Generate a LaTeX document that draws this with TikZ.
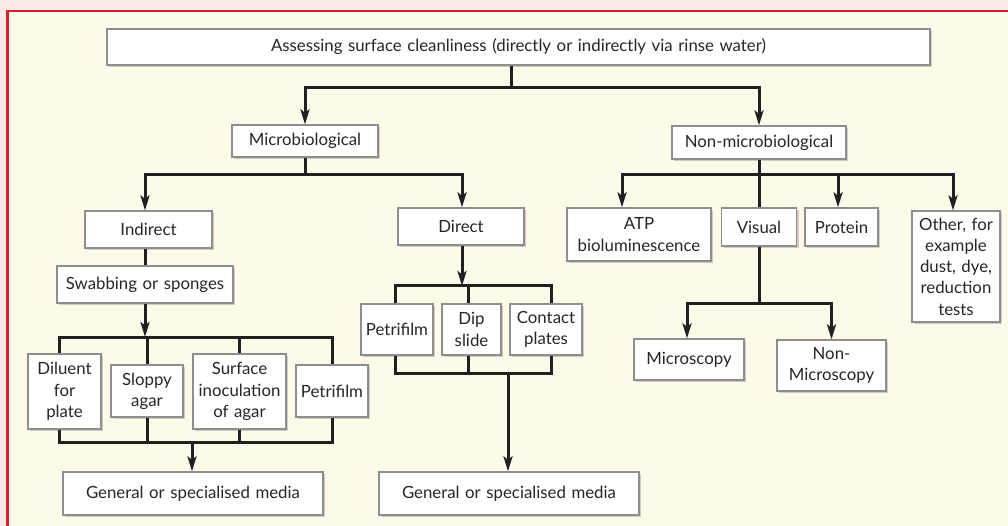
\documentclass[tikz,border=0pt]{standalone}
\usepackage{fontspec}
\setmainfont{Lato}[WordSpace=1.3]
\usetikzlibrary{arrows.meta,shadows}
\definecolor{pinkbg}{HTML}{FBEAE6}
\definecolor{creambg}{HTML}{FEFAE9}
\definecolor{framered}{HTML}{D7202E}
\definecolor{boxline}{HTML}{8E8E8E}
\definecolor{inkline}{HTML}{231F20}
\tikzset{
  box/.style={draw=boxline, line width=1.3pt, fill=white, align=center, inner sep=2pt,
    text=black!85, font=\fontsize{16.8}{21.3}\selectfont,
    drop shadow={shadow xshift=2pt, shadow yshift=-2pt, opacity=0.18, fill=black}},
  link/.style={line width=3pt, inkline},
  arr/.style={link, -{Stealth[length=15pt, width=9pt, inset=3.5pt]}}
}
\begin{document}
\begin{tikzpicture}[x=1pt, y=-1pt]
    \useasboundingbox (0,0) rectangle (1008,526);
    \fill[pinkbg] (0,0) rectangle (1008,526);
    \fill[creambg] (7.5,11) rectangle (1008,526);
    \draw[framered, line width=2.5pt] (7.5,526) -- (7.5,11) -- (1008,11);

    \node[box, minimum width=823pt, minimum height=36pt] (top) at (518.5,47) {Assessing surface cleanliness (directly or indirectly via rinse water)};
    \node[box, minimum width=146pt, minimum height=32pt] (micro) at (305,141) {Microbiological};
    \node[box, minimum width=174pt, minimum height=33pt] (nonmicro) at (759,142.5) {Non-microbiological};

    \node[box, minimum width=127pt, minimum height=37pt] (indirect) at (148.5,229.5) {Indirect};
    \node[box, minimum width=126pt, minimum height=37pt] (direct) at (461,226.5) {Direct};
    \node[box, minimum width=176pt, minimum height=37pt] (swab) at (145,284.5) {Swabbing or sponges};

    \node[box, minimum width=73pt, minimum height=75pt] (diluent) at (64.5,391.5) {Diluent\\for\\plate};
    \node[box, minimum width=72pt, minimum height=52pt] (sloppy) at (147,391) {Sloppy\\agar};
    \node[box, minimum width=93pt, minimum height=75pt] (surface) at (239.5,391.5) {Surface\\inoculation\\of agar};
    \node[box, minimum width=72pt, minimum height=52pt] (petri1) at (332,391) {Petrifilm};
    \node[box, minimum width=260pt, minimum height=43pt] (media1) at (193,493.5) {General or specialised media};

    \node[box, minimum width=72pt, minimum height=51pt] (petri2) at (397,329.5) {Petrifilm};
    \node[box, minimum width=59pt, minimum height=51pt] (dip) at (471.5,329.5) {Dip\\slide};
    \node[box, minimum width=72pt, minimum height=51pt] (contact) at (546,329.5) {Contact\\plates};
    \node[box, minimum width=260pt, minimum height=43pt] (media2) at (509,493.5) {General or specialised media};

    \node[box, minimum width=144pt, minimum height=53pt] (atp) at (639,234.5) {ATP\\bioluminescence};
    \node[box, minimum width=75pt, minimum height=38pt] (visual) at (759,227) {Visual};
    \node[box, minimum width=73pt, minimum height=38pt] (protein) at (841.5,227) {Protein};
    \node[box, minimum width=88pt, minimum height=111pt] (other) at (956,266.5) {Other, for\\example\\dust, dye,\\reduction\\tests};
    \node[box, minimum width=110pt, minimum height=41pt] (microscopy) at (689,359.5) {Microscopy};
    \node[box, minimum width=109pt, minimum height=51pt] (nonmicroscopy) at (831.5,365.5) {Non-\\Microscopy};

    \coordinate (s0) at (511,88);
    \coordinate (s5) at (305,175);
    \coordinate (s3) at (759,175);
    \coordinate (s1) at (145,337);
    \coordinate (b1) at (192,442);
    \coordinate (s2) at (462,286);
    \coordinate (b2) at (508,373);
    \coordinate (s4) at (759,303);

    \draw[link] (top.south -| s0) -- (s0);
    \draw[arr] (s0) -| (micro.north);
    \draw[arr] (s0) -| (nonmicro.north);

    \draw[link] (micro) -- (s5);
    \draw[arr] (s5) -| ([xshift=-3.5pt]indirect.north);
    \draw[arr] (s5) -| ([xshift=1pt]direct.north);

    \draw[link] ([xshift=-3.5pt]indirect.south) -- (swab.north);
    \draw[arr] (swab.south) -- (s1);
    \draw[link] ([xshift=-5.5pt]diluent.north) |- (petri1.north |- s1) -- (petri1.north);
    \draw[link] (sloppy.north) -- (sloppy.north |- s1);
    \draw[link] (surface.north) -- (surface.north |- s1);
    \draw[link] ([xshift=-5.5pt]diluent.south) |- (petri1.south |- b1) -- (petri1.south);
    \draw[link] (sloppy.south) -- (sloppy.south |- b1);
    \draw[link] (surface.south) -- (surface.south |- b1);
    \draw[arr] (b1) -- (b1 |- media1.north);

    \draw[arr] ([xshift=1pt]direct.south) -- (s2);
    \draw[link] ([xshift=-2pt]petri2.north) |- ([xshift=5pt]contact.north |- s2) -- ([xshift=5pt]contact.north);
    \draw[link] ([xshift=-3.5pt]dip.north) -- ([xshift=-3.5pt]dip.north |- s2);
    \draw[link] ([xshift=-2pt]petri2.south) |- ([xshift=5pt]contact.south |- b2) -- ([xshift=5pt]contact.south);
    \draw[link] ([xshift=-3.5pt]dip.south) -- ([xshift=-3.5pt]dip.south |- b2);
    \draw[arr] (b2) -- (b2 |- media2.north);

    \draw[link] (nonmicro) -- (s3);
    \draw[arr] (s3) -| ([xshift=-17pt]atp.north);
    \draw[arr] (s3) -| ([xshift=-3.5pt]protein.north);
    \draw[arr] (s3) -| ([xshift=-3pt]other.north);
    \draw[link] (s3) -- (visual.north);

    \draw[link] (visual) -- (s4);
    \draw[arr] (s4) -| ([xshift=-2pt]microscopy.north);
    \draw[arr] (s4) -| (nonmicroscopy.north);
\end{tikzpicture}
\end{document}
